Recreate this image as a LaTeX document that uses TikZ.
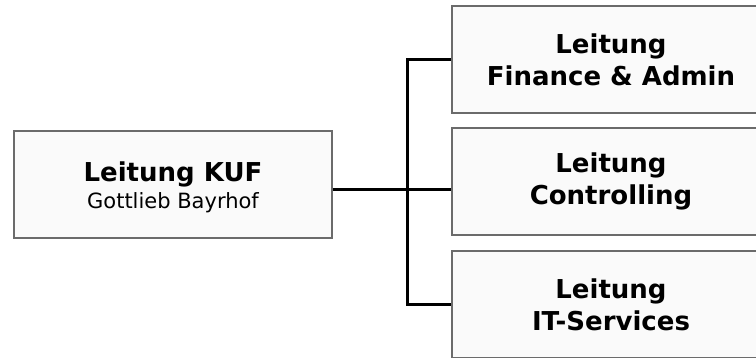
\documentclass[tikz,border=0pt]{standalone}
\usepackage{fontspec}
\setmainfont{DejaVu Sans}
\begin{document}
\begin{tikzpicture}[x=1pt,y=-1pt]
	 \tikzstyle{box}=[draw=black!58,line width=1.6pt,fill=black!2,minimum width=318pt,minimum height=107pt,inner sep=0pt,align=center,font=\fontsize{26}{32}\selectfont\bfseries]
	 \tikzstyle{edge} = [draw,line width=3pt,-,black]
	 \useasboundingbox (0,0) rectangle (756,357);
	 \node[box] (kuf) at (173,184.5) {\rule{0pt}{25pt}Leitung KUF\\[-5pt]{\fontsize{21}{27}\selectfont\mdseries Gottlieb Bayrhof}};
	 \node[box] (fin) at (611,59.5) {Leitung\\Finance \& Admin};
	 \node[box] (ctrl) at (611,181.5) {Leitung\\Controlling};
	 \node[box] (it) at (611,304.5) {Leitung\\IT-Services};
	 \coordinate (bus) at (407,189);
	 \draw[edge] (kuf.east |- bus) -- (ctrl.west |- bus);
	 \draw[edge] (fin.west) -| (bus) |- (it.west);
 \end{tikzpicture}
\end{document}
